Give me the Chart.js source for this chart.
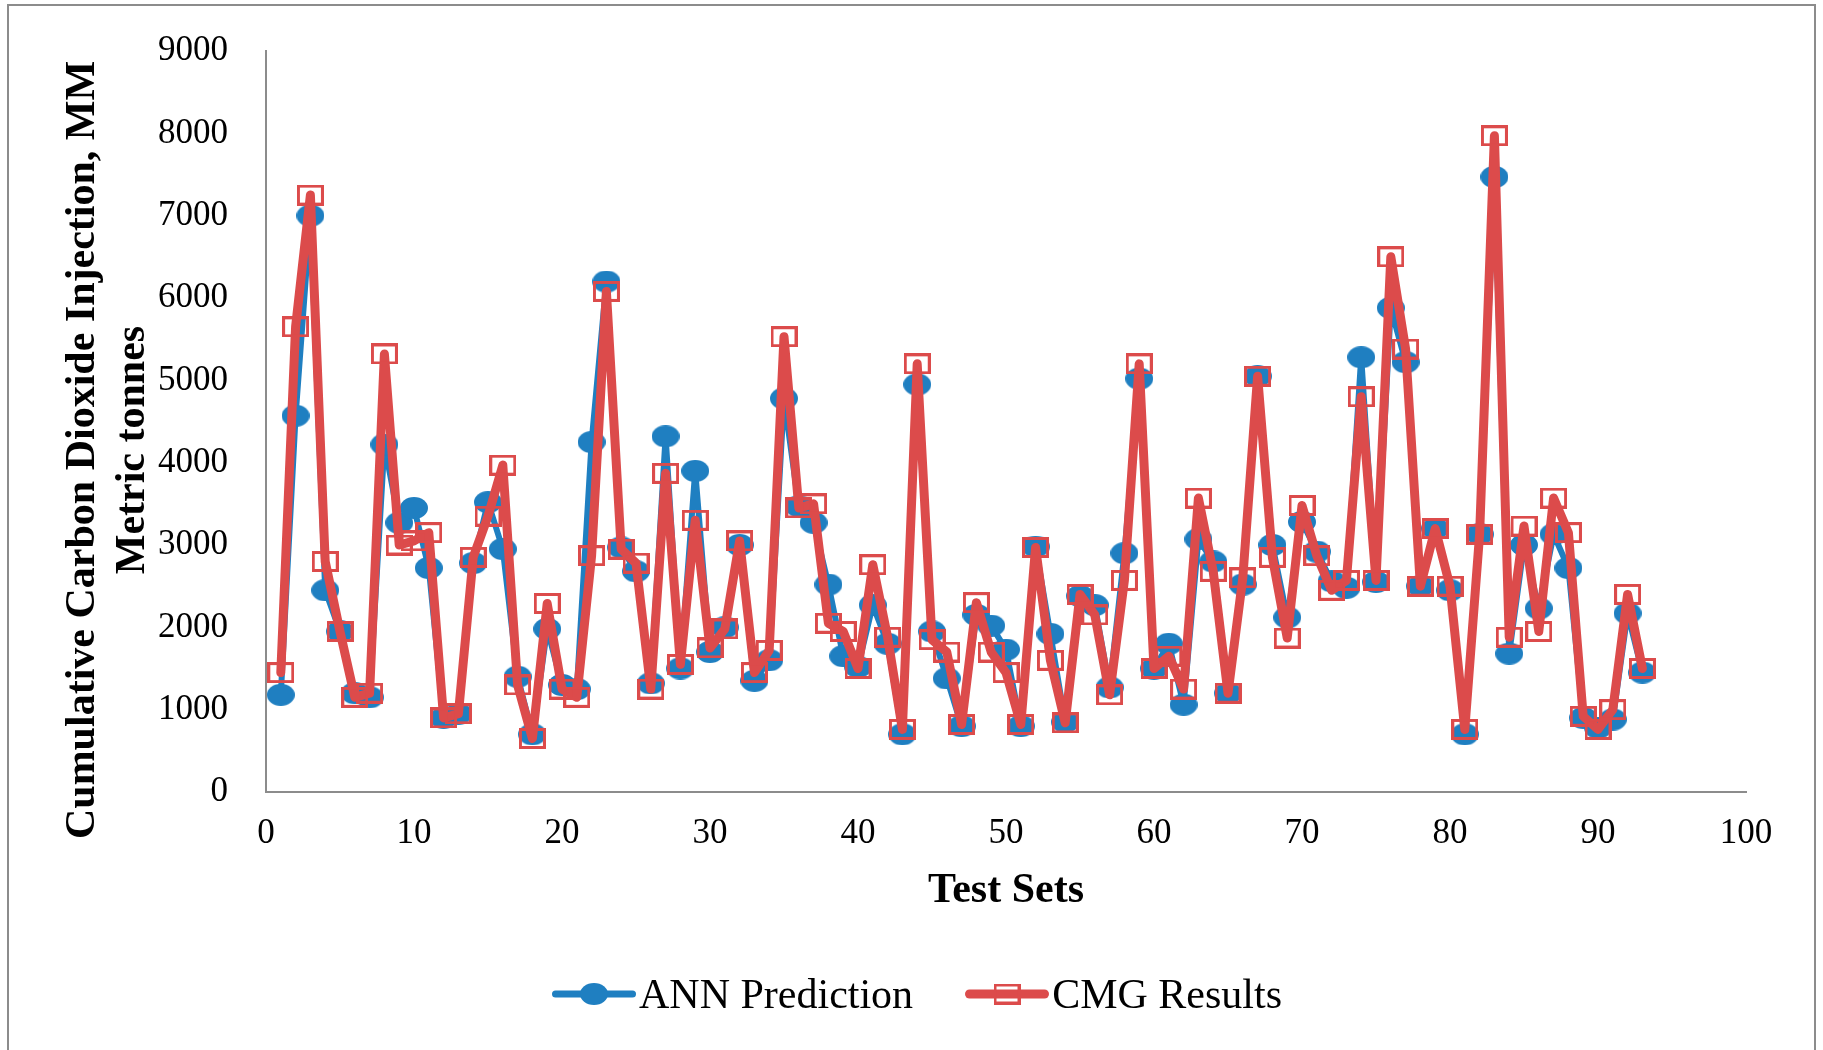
<!DOCTYPE html>
<html><head><meta charset="utf-8">
<script src="https://cdn.jsdelivr.net/npm/chart.js@4.4.1/dist/chart.umd.min.js"></script>
<style>
html,body{margin:0;padding:0;background:#fff;}
#wrap{position:relative;width:1823px;height:1050px;overflow:hidden;background:#fff;}
#frame{position:absolute;left:7px;top:4px;width:1809px;height:1100px;border:2px solid #8c8c8c;box-sizing:border-box;pointer-events:none;}
#chart{position:absolute;left:0;top:0;}
#legend{position:absolute;top:966px;left:0;width:1834px;height:56px;display:flex;justify-content:center;align-items:center;font-family:'Liberation Serif','Times New Roman',serif;font-size:42px;color:#000;}
.item{display:flex;align-items:center;}
.item canvas{margin-right:3px;}
</style>
</head><body>
<div id="wrap">
<canvas id="chart" width="1823" height="1050"></canvas>
<div id="legend"></div>
<div id="frame"></div>
</div>
<script>
const testSets = [1,2,3,4,5,6,7,8,9,10,11,12,13,14,15,16,17,18,19,20,21,22,23,24,25,26,27,28,29,30,31,32,33,34,35,36,37,38,39,40,41,42,43,44,45,46,47,48,49,50,51,52,53,54,55,56,57,58,59,60,61,62,63,64,65,66,67,68,69,70,71,72,73,74,75,76,77,78,79,80,81,82,83,84,85,86,87,88,89,90,91,92,93];
const annPrediction = [1180,4570,7000,2450,1950,1200,1150,4220,3270,3450,2720,900,950,2780,3520,2950,1400,700,1980,1300,1250,4250,6200,2970,2680,1320,4320,1500,3900,1700,2000,3000,1350,1600,4780,3470,3270,2520,1650,1520,2270,1800,700,4950,1950,1380,800,2150,2020,1730,800,2980,1920,850,2380,2270,1270,2900,5020,1500,1800,1060,3070,2800,1200,2520,5050,3000,2120,3280,2920,2560,2480,5280,2550,5880,5220,2500,3200,2450,700,3130,7470,1680,3000,2230,3130,2720,900,780,880,2170,1450];
const cmgResults = [1450,5650,7250,2800,1950,1150,1200,5320,3000,3050,3150,900,950,2850,3350,3970,1300,650,2290,1250,1150,2870,6080,2950,2780,1250,3870,1550,3300,1750,1980,3050,1450,1720,5530,3450,3500,2050,1950,1500,2760,1880,760,5200,1850,1700,820,2300,1700,1450,820,2970,1600,840,2400,2150,1180,2570,5200,1500,1650,1250,3570,2680,1200,2600,5050,2850,1870,3480,2870,2450,2570,4800,2570,6500,5380,2500,3200,2500,760,3130,7970,1880,3230,1950,3570,3150,920,760,1000,2400,1500];
const xTickValues = [0,10,20,30,40,50,60,70,80,90,100];
const yTickValues = [0,1000,2000,3000,4000,5000,6000,7000,8000,9000];
const seriesNames = ['ANN Prediction','CMG Results'];
const xTitle = 'Test Sets';
const yTitle = ['Cumulative Carbon Dioxide Injection, MM','Metric tonnes'];

const BLUE = '#1f7fc1';
const RED = '#dc4b4b';
const SERIF = "'Liberation Serif','Times New Roman',serif";

function ellipseImg(w,h,color){
  const c=document.createElement('canvas');c.width=w;c.height=h;
  const g=c.getContext('2d');g.fillStyle=color;g.beginPath();
  g.ellipse(w/2,h/2,w/2,h/2,0,0,Math.PI*2);g.fill();return c;
}
function rectImg(w,h,color,lw){
  const c=document.createElement('canvas');c.width=w;c.height=h;
  const g=c.getContext('2d');g.strokeStyle=color;g.lineWidth=lw;
  g.strokeRect(lw/2,lw/2,w-lw,h-lw);return c;
}
const annPoint = ellipseImg(28,22,BLUE);
const cmgPoint = rectImg(27,21,RED,3);

function toPoints(ys){ return testSets.map((x,i)=>({x:x,y:ys[i]})); }

const titlePlugin = {
  id:'titles',
  afterDraw(chart){
    const ctx=chart.ctx; const a=chart.chartArea;
    ctx.save();
    ctx.fillStyle='#000';
    ctx.font='bold 42px '+SERIF;
    ctx.textAlign='center'; ctx.textBaseline='middle';
    ctx.fillText(xTitle,(a.left+a.right)/2,891);
    ctx.translate(83,450);
    ctx.rotate(-Math.PI/2);
    yTitle.forEach((t,i)=>ctx.fillText(t,0,i*50));
    ctx.restore();
  }
};

new Chart(document.getElementById('chart'),{
  type:'line',
  data:{datasets:[
    {label:seriesNames[0],data:toPoints(annPrediction),borderColor:BLUE,backgroundColor:BLUE,borderWidth:6,
     borderJoinStyle:'round',borderCapStyle:'round',
     pointStyle:annPoint,pointRadius:14,pointHoverRadius:14,tension:0,order:2,fill:false},
    {label:seriesNames[1],data:toPoints(cmgResults),borderColor:RED,backgroundColor:RED,borderWidth:9,
     borderJoinStyle:'round',borderCapStyle:'round',
     pointStyle:cmgPoint,pointRadius:14,pointHoverRadius:14,tension:0,order:1,fill:false}
  ]},
  options:{
    responsive:false,animation:false,devicePixelRatio:1,
    layout:{padding:{top:48,right:77,bottom:0,left:0}},
    plugins:{legend:{display:false},tooltip:{enabled:false}},
    scales:{
      x:{type:'linear',min:0,max:100,
        afterBuildTicks:s=>{s.ticks=xTickValues.map(v=>({value:v}));},
        afterFit:s=>{s.height=258;},
        grid:{display:false},
        border:{display:true,color:'#8c8c8c',width:2},
        ticks:{padding:13,color:'#000',font:{family:SERIF,size:35},maxRotation:0,autoSkip:false,callback:v=>String(v)}
      },
      y:{type:'linear',min:0,max:9000,
        afterBuildTicks:s=>{s.ticks=yTickValues.map(v=>({value:v}));},
        afterFit:s=>{s.width=266;},
        grid:{display:false},
        border:{display:true,color:'#8c8c8c',width:2},
        ticks:{padding:30,color:'#000',font:{family:SERIF,size:35},callback:v=>String(v)}
      }
    }
  },
  plugins:[titlePlugin]
});

// HTML legend
const legend=document.getElementById('legend');
function legendItem(name,color,lw,marker,gapRight){
  const item=document.createElement('div');item.className='item';
  if(gapRight) item.style.marginRight=gapRight+'px';
  const c=document.createElement('canvas');c.width=84;c.height=34;
  const g=c.getContext('2d');
  g.strokeStyle=color;g.lineWidth=lw;g.lineCap='round';
  g.beginPath();g.moveTo(lw/2,17);g.lineTo(84-lw/2,17);g.stroke();
  g.drawImage(marker,42-marker.width/2,17-marker.height/2);
  const s=document.createElement('span');s.textContent=name;
  item.appendChild(c);item.appendChild(s);legend.appendChild(item);
}
legendItem(seriesNames[0],BLUE,7,annPoint,52);
legendItem(seriesNames[1],RED,9,cmgPoint,0);
</script>
</body></html>
